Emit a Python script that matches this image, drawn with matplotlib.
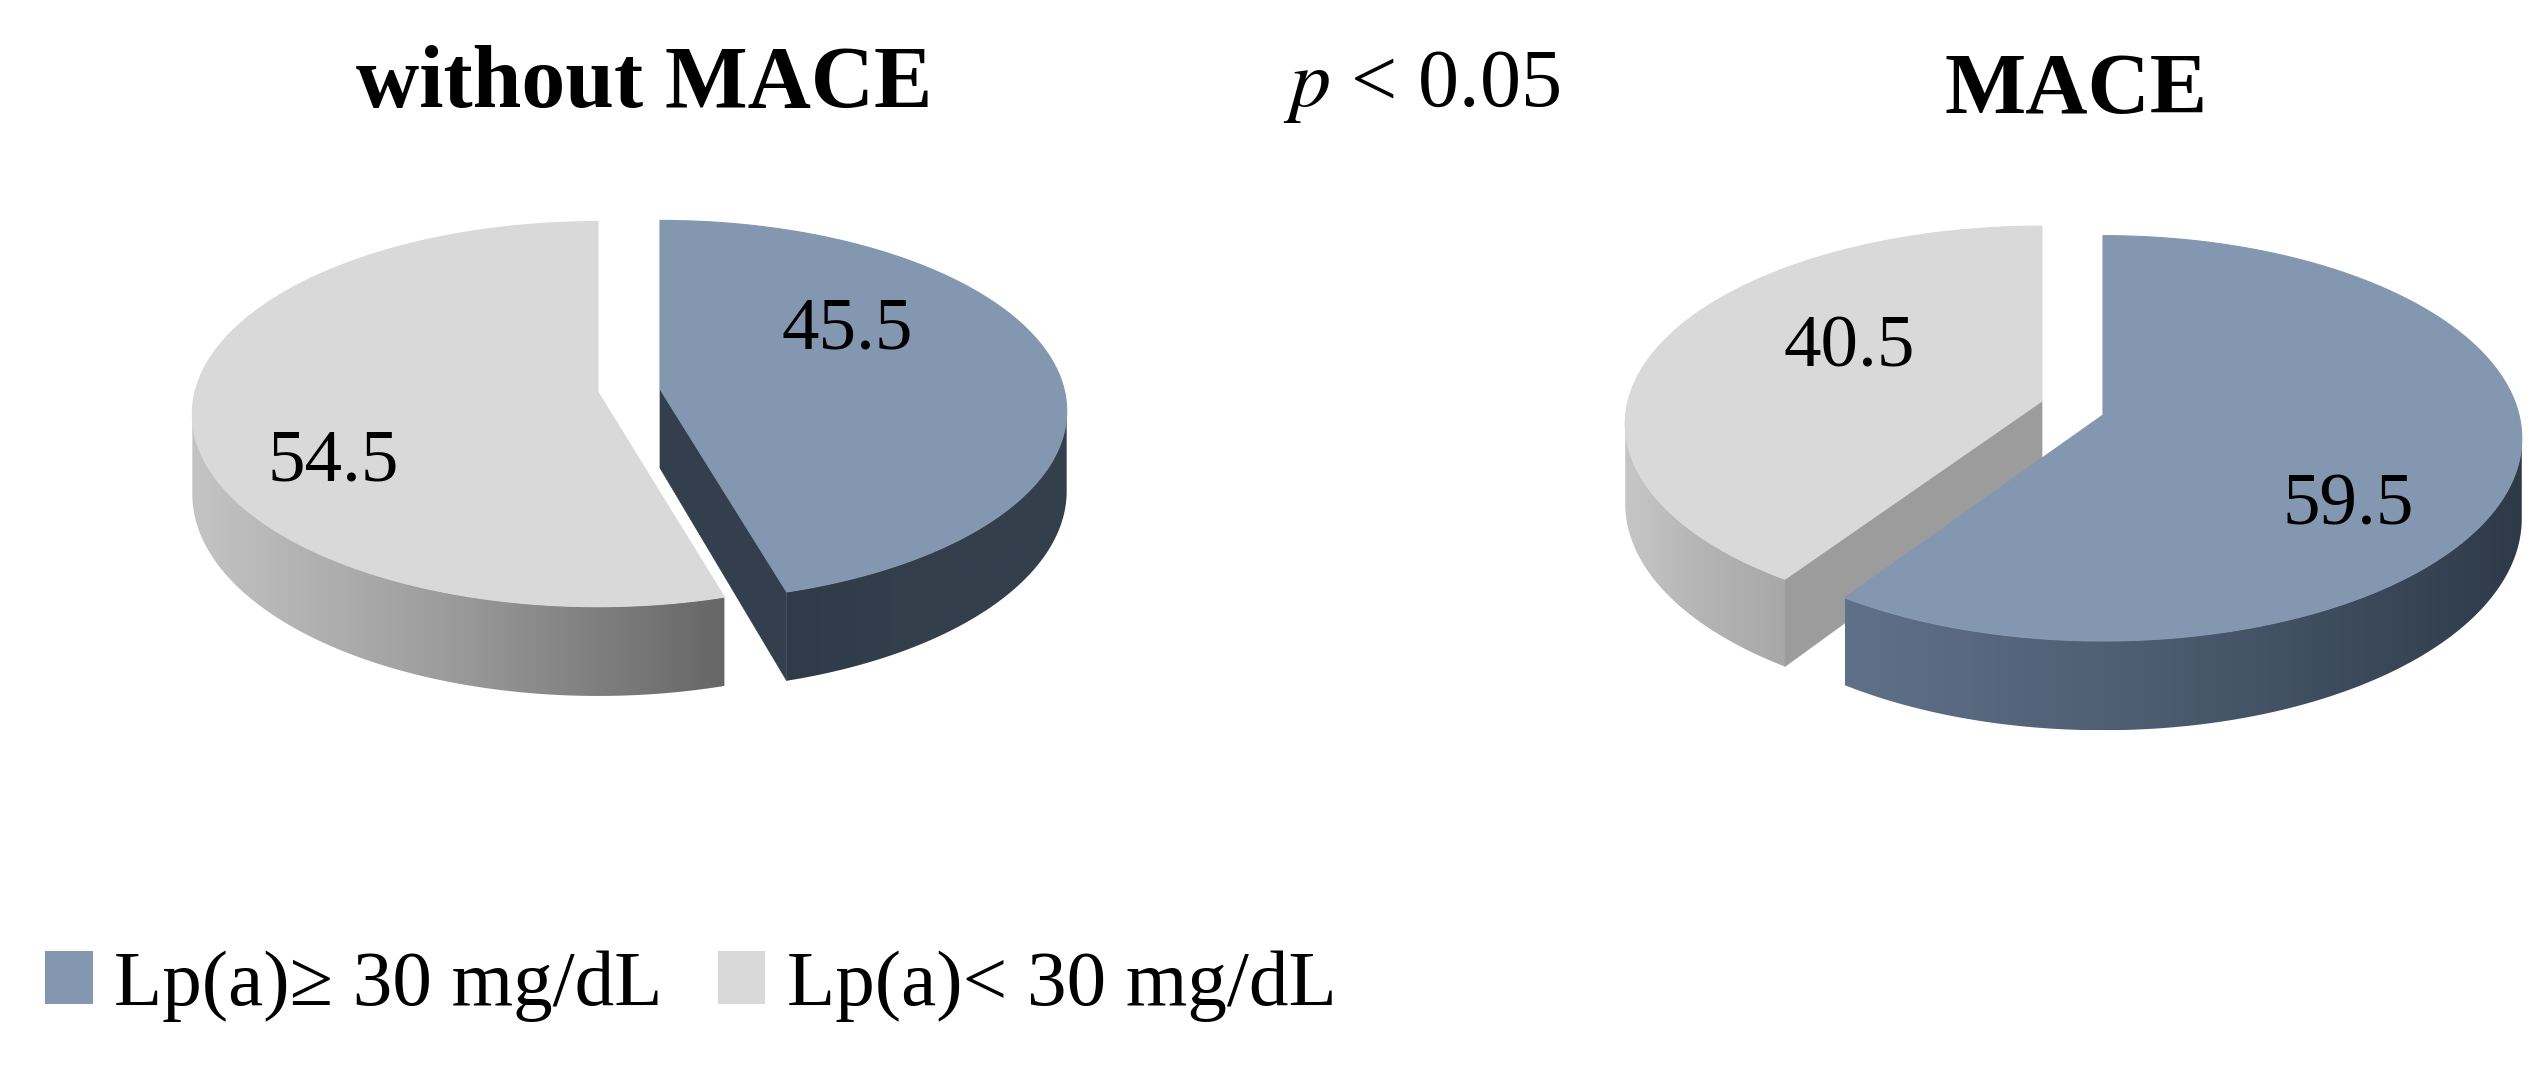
import numpy as np
import matplotlib
matplotlib.use("Agg")
import matplotlib.pyplot as plt
from matplotlib.patches import Polygon, Patch
from matplotlib.colors import LinearSegmentedColormap

# data
categories = ["Lp(a)\u2265 30 mg/dL", "Lp(a)< 30 mg/dL"]
without_mace = [45.5, 54.5]
mace = [59.5, 40.5]
titles = ["without MACE", "MACE"]

BLUE = "#8497b0"
GREY = "#d9d9d9"
FONT = "Liberation Serif"
K = 0.115          # perspective of the tilted disc
DEPTH = 79

W, H = 2548, 1066
fig = plt.figure(figsize=(W / 100, H / 100), dpi=100)
ax = fig.add_axes([0, 0, 1, 1])
ax.axis("off")


def rim(theta_deg, ax_, ay, rx, ry):
    t = np.radians(theta_deg)
    den = 1 + K * np.cos(t)
    return ax_ + rx * np.sin(t) / den, ay - ry * np.cos(t) / den, DEPTH / den


def gradient_side(xs, ys, colors, z):
    poly = Polygon(np.c_[xs, ys], closed=True, fc="none", ec="none", zorder=z)
    ax.add_patch(poly)
    cmap = LinearSegmentedColormap.from_list("g", colors)
    im = ax.imshow(np.linspace(0, 1, 256)[None, :], cmap=cmap, aspect="auto",
                   extent=(xs.min(), xs.max(), ys.max(), ys.min()), zorder=z)
    im.set_clip_path(poly)


def wedge(start, end, apex, rx, ry, face, side_colors, wall=None, z=2):
    """start/end: clockwise degrees from 12 o'clock."""
    th = np.linspace(start, end, 400)
    x, y, d = rim(th, apex[0], apex[1], rx, ry)
    front = np.cos(np.radians(th)) <= -K
    if front.any():
        xs = np.r_[x[front], x[front][::-1]]
        ys = np.r_[y[front], (y[front] + d[front])[::-1]]
        gradient_side(xs, ys, side_colors, z)
    if wall is not None:
        cut = end if abs(end) > abs(start) else start
        tx, ty, td = rim(cut, apex[0], apex[1], rx, ry)
        ax.add_patch(Polygon([apex, (tx, ty), (tx, ty + td), (apex[0], apex[1] + DEPTH)],
                             closed=True, fc=wall, ec=wall, lw=0.5, zorder=z))
    ax.add_patch(Polygon(np.c_[np.r_[apex[0], x], np.r_[apex[1], y]], closed=True,
                         fc=face, ec=face, lw=0.8, zorder=z + 0.5))


# left pie
v = without_mace
wedge(-v[1] * 3.6, 0, (598, 392), 403, 190, GREY, ["#c4c4c4", "#9a9a9a", "#666666"], z=2)
wedge(0, v[0] * 3.6, (660, 389), 404, 188, BLUE, ["#2f3b49", "#343f4c", "#343f4c"],
      wall="#333f4c", z=2)
# right pie
v = mace
wedge(-v[1] * 3.6, 0, (2042, 401), 414, 195, GREY, ["#c6c6c6", "#b4b4b4", "#a8a8a8"],
      wall="#9c9c9c", z=2)
wedge(0, v[0] * 3.6, (2103, 415), 416, 200, BLUE, ["#5f7189", "#4a5a6e", "#2e3a48"], z=4)

# value labels
label_pos = [(847, 331), (333, 463), (2348, 507), (1849, 349)]
for val, (lx, ly) in zip(without_mace + mace, label_pos):
    ax.text(lx, ly, f"{val}", family=FONT, fontsize=54, ha="center", va="center", zorder=6)

# titles
ax.text(644, 86, titles[0], family=FONT, fontsize=63, fontweight="bold",
        ha="center", va="center", zorder=6)
ax.text(2076, 93, titles[1], family=FONT, fontsize=62, fontweight="bold",
        ha="center", va="center", zorder=6)
ax.text(1422, 87, r"$\mathit{p}$ < 0.05", family=FONT, fontsize=59,
        math_fontfamily="stix", ha="center", va="center", zorder=6)

# legend
handles = [Patch(fc=BLUE, ec="none"), Patch(fc=GREY, ec="none")]
ax.legend(handles, categories, ncol=2, frameon=False, loc="lower left",
          bbox_to_anchor=(45 / W, 1 - 1022 / H), bbox_transform=ax.transAxes,
          prop={"family": FONT, "size": 57}, handlelength=0.6, handleheight=0.65,
          handletextpad=0.27, columnspacing=0.7, borderpad=0, borderaxespad=0)

ax.set_xlim(0, W)
ax.set_ylim(H, 0)
fig.savefig("out.png", dpi=100, facecolor="white")
